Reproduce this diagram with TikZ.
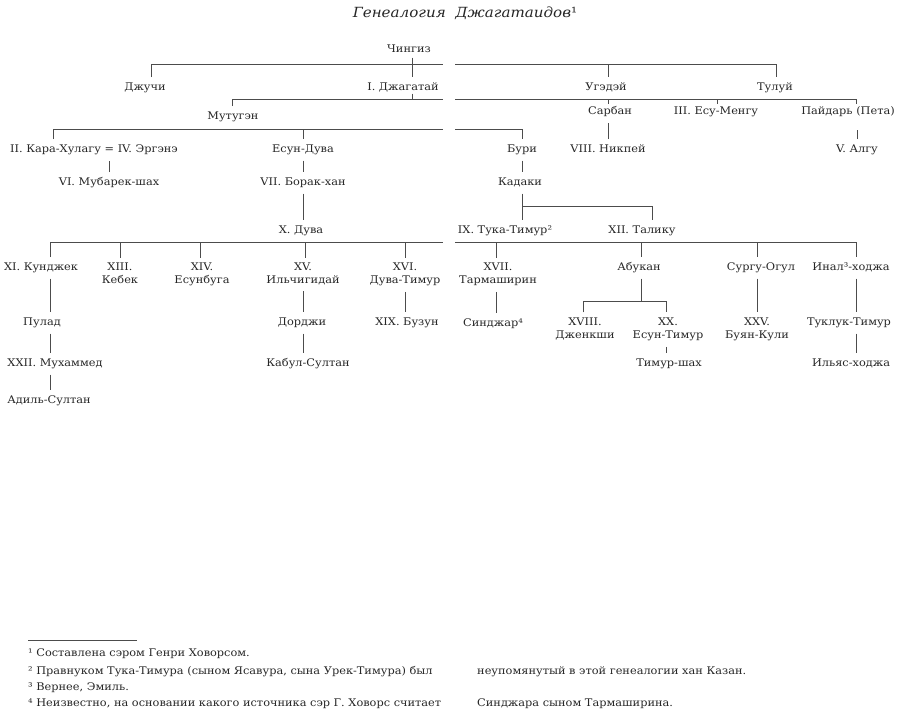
\documentclass[tikz,border=0pt]{standalone}
\usepackage{fontspec}
\setmainfont{DejaVu Serif}[FakeStretch=1.08]
\begin{document}
\begin{tikzpicture}[x=1pt, y=-1pt]
        \tikzstyle{every node}=[inner xsep=1pt, inner ysep=5.5pt, text=black!85, font=\fontsize{10.5}{13}\selectfont]
        \tikzstyle{nm}=[anchor=base, text height=7.7pt, text depth=2.4pt]
        \tikzstyle{two}=[anchor=north, align=center]
        \tikzstyle{line}=[draw=black!70, line width=0.9pt]
        \tikzstyle{note}=[anchor=base west, inner sep=0pt]

        \useasboundingbox (0,0) rectangle (909,723);

        \node (title) at (465,13) {\fontsize{14}{16}\selectfont\itshape Генеалогия\ \ Джагатаидов\upshape¹};

        \node[nm] (chingiz)     at (409,52.6)  {Чингиз};
        \node[nm] (dzhuchi)     at (145,90.6)  {Джучи};
        \node[nm] (dzhagatai)   at (403,90.6)  {I. Джагатай};
        \node[nm] (ugedei)      at (606,90.6)  {Угэдэй};
        \node[nm] (tului)       at (775,90.6)  {Тулуй};
        \node[nm] (mutugen)     at (233,119.6) {Мутугэн};
        \node[nm] (sarban)      at (610,114.6) {Сарбан};
        \node[nm] (yesumengu)   at (716,114.6) {III. Есу-Менгу};
        \node[nm] (paidar)      at (848,114.6) {Пайдарь (Пета)};
        \node[nm] (karahulagu)  at (94,152.6)  {II. Кара-Хулагу = IV. Эргэнэ};
        \node[nm] (yesunduva)   at (303,152.6) {Есун-Дува};
        \node[nm] (buri)        at (522,152.6) {Бури};
        \node[nm] (nikpei)      at (608,152.6) {VIII. Никпей};
        \node[nm] (algu)        at (857,152.6) {V. Алгу};
        \node[nm] (mubarek)     at (109,185.6) {VI. Мубарек-шах};
        \node[nm] (borak)       at (303,185.6) {VII. Борак-хан};
        \node[nm] (kadaki)      at (520,185.6) {Кадаки};
        \node[nm] (duva)        at (301,233.6) {X. Дува};
        \node[nm] (tuka)        at (505,233.6) {IX. Тука-Тимур²};
        \node[nm] (taliku)      at (642,233.6) {XII. Талику};

        \node[nm] (kundzhek)    at (41,270.6)  {XI. Кунджек};
        \node[two] (kebek)      at (120,257.6) {XIII.\\Кебек};
        \node[two] (yesunbuga)  at (202,257.6) {XIV.\\Есунбуга};
        \node[two] (ilchigidai) at (303,257.6) {XV.\\Ильчигидай};
        \node[two] (duvatimur)  at (405,257.6) {XVI.\\Дува-Тимур};
        \node[two] (tarmashirin) at (498,257.6) {XVII.\\Тармаширин};
        \node[nm] (abukan)      at (639,270.6) {Абукан};
        \node[nm] (surgu)       at (761,270.6) {Сургу-Огул};
        \node[nm] (inal)        at (851,270.6) {Инал³-ходжа};

        \node[nm] (pulad)       at (42,325.4)  {Пулад};
        \node[nm] (dordzhi)     at (302,325.4) {Дорджи};
        \node[nm] (buzun)       at (407,325.4) {XIX. Бузун};
        \node[nm] (sindzhar)    at (493,326.4) {Синджар⁴};
        \node[two] (dzhenkshi)  at (585,312.4) {XVIII.\\Дженкши};
        \node[two] (yesuntimur) at (668,312.4) {XX.\\Есун-Тимур};
        \node[two] (buyankuli)  at (757,312.4) {XXV.\\Буян-Кули};
        \node[nm] (tukluk)      at (849,325.4) {Туклук-Тимур};

        \node[nm] (muhammed)    at (55,366.6)  {XXII. Мухаммед};
        \node[nm] (kabul)       at (308,366.6) {Кабул-Султан};
        \node[nm] (timurshah)   at (669,366.6) {Тимур-шах};
        \node[nm] (ilyas)       at (851,366.6) {Ильяс-ходжа};
        \node[nm] (adil)        at (49,403.6)  {Адиль-Султан};

        % bars, broken at the fold
        \coordinate (j1) at (151,64.5);  \coordinate (j2) at (412,64.5);
        \coordinate (j3) at (608,64.5);  \coordinate (j4) at (776,64.5);
        \coordinate (g1l) at (443,64.5); \coordinate (g1r) at (455,64.5);
        \coordinate (m1) at (232,99);    \coordinate (m2) at (412,99);
        \coordinate (m3) at (608,99);    \coordinate (m4) at (717,99);
        \coordinate (m5) at (856,99);
        \coordinate (g2l) at (443,99);   \coordinate (g2r) at (455,99);
        \coordinate (k1) at (53,129);    \coordinate (k2) at (303,129);
        \coordinate (k3) at (522,129);
        \coordinate (g3l) at (443,129);  \coordinate (g3r) at (455,129);
        \coordinate (t1) at (522,206);   \coordinate (t2) at (652,206);
        \coordinate (d1) at (50,242);    \coordinate (d2) at (120,242);
        \coordinate (d3) at (200,242);   \coordinate (d4) at (305,242);
        \coordinate (d5) at (405,242);   \coordinate (d6) at (496,242);
        \coordinate (d7) at (641,242);   \coordinate (d8) at (757,242);
        \coordinate (d9) at (856,242);
        \coordinate (g4l) at (443,242);  \coordinate (g4r) at (455,242);
        \coordinate (a1) at (583,301);   \coordinate (a2) at (641,301);
        \coordinate (a3) at (666,301);

        \draw[line] (j1 |- dzhuchi.north) -- (j1) -- (g1l);
        \draw[line] (g1r) -- (j4) -- (j4 |- tului.north);
        \draw[line, shorten <=-3pt] (j2 |- chingiz.south) -- (j2 |- dzhagatai.north);
        \draw[line] (j3) -- (j3 |- ugedei.north);

        \draw[line] (m1 |- mutugen.north) -- (m1) -- (g2l);
        \draw[line, shorten >=-3pt] (g2r) -- (m5) -- (m5 |- paidar.north);
        \draw[line, shorten <=-5pt] (m2 |- dzhagatai.south) -- (m2);
        \draw[line, shorten >=-3pt] (m3) -- (m3 |- sarban.north);
        \draw[line, shorten >=-3pt] (m4) -- (m4 |- yesumengu.north);

        \draw[line] (k1 |- karahulagu.north) -- (k1) -- (g3l);
        \draw[line] (g3r) -- (k3) -- (k3 |- buri.north);
        \draw[line] (k2) -- (k2 |- yesunduva.north);

        \draw[line] (mubarek.north) -- (mubarek.north |- karahulagu.south);
        \draw[line] (nikpei.north) -- (nikpei.north |- sarban.south);
        \draw[line, shorten >=7.5pt] (algu.north) -- (algu.north |- paidar.south);
        \draw[line] (k2 |- yesunduva.south) -- (k2 |- borak.north);
        \draw[line] (k2 |- borak.south) -- (k2 |- duva.north);
        \draw[line] (k3 |- buri.south) -- (k3 |- kadaki.north);
        \draw[line] (k3 |- kadaki.south) -- (k3 |- tuka.north);
        \draw[line] (t1) -- (t2) -- (t2 |- taliku.north);

        \draw[line] (d1 |- kundzhek.north) -- (d1) -- (g4l);
        \draw[line] (g4r) -- (d9) -- (d9 |- inal.north);
        \draw[line] (d2) -- (d2 |- kebek.north);
        \draw[line] (d3) -- (d3 |- yesunbuga.north);
        \draw[line] (d4) -- (d4 |- ilchigidai.north);
        \draw[line] (d5) -- (d5 |- duvatimur.north);
        \draw[line] (d6) -- (d6 |- tarmashirin.north);
        \draw[line] (d7) -- (d7 |- abukan.north);
        \draw[line] (d8) -- (d8 |- surgu.north);

        \draw[line] (d1 |- kundzhek.south) -- (d1 |- pulad.north);
        \draw[line] (d1 |- pulad.south) -- (d1 |- muhammed.north);
        \draw[line] (d1 |- muhammed.south) -- (d1 |- adil.north);
        \draw[line] (ilchigidai.south) -- (ilchigidai.south |- dordzhi.north);
        \draw[line] (ilchigidai.south |- dordzhi.south) -- (ilchigidai.south |- kabul.north);
        \draw[line] (duvatimur.south) -- (duvatimur.south |- buzun.north);
        \draw[line] (d6 |- tarmashirin.south) -- (d6 |- sindzhar.north);
        \draw[line] (a2 |- abukan.south) -- (a2);
        \draw[line] (a1 |- dzhenkshi.north) -- (a1) -- (a3) -- (a3 |- yesuntimur.north);
        \draw[line] (a3 |- yesuntimur.south) -- (a3 |- timurshah.north);
        \draw[line] (d8 |- surgu.south) -- (d8 |- buyankuli.north);
        \draw[line] (d9 |- inal.south) -- (d9 |- tukluk.north);
        \draw[line] (d9 |- tukluk.south) -- (d9 |- ilyas.north);

        \coordinate (rl) at (28,640); \coordinate (rr) at (137,640);
        \draw[draw=black!70, line width=0.6pt] (rl) -- (rr);
        \node[note] (fn1)  at (28,656.6)  {¹ Составлена сэром Генри Ховорсом.};
        \node[note] (fn2)  at (28,674.6)  {² Правнуком Тука-Тимура (сыном Ясавура, сына Урек-Тимура) был};
        \node[note] (fn2b) at (477,674.6) {неупомянутый в этой генеалогии хан Казан.};
        \node[note] (fn3)  at (28,690.6)  {³ Вернее, Эмиль.};
        \node[note] (fn4)  at (28,706.6)  {⁴ Неизвестно, на основании какого источника сэр Г. Ховорс считает};
        \node[note] (fn4b) at (477,706.6) {Синджара сыном Тармаширина.};

\end{tikzpicture}
\end{document}
